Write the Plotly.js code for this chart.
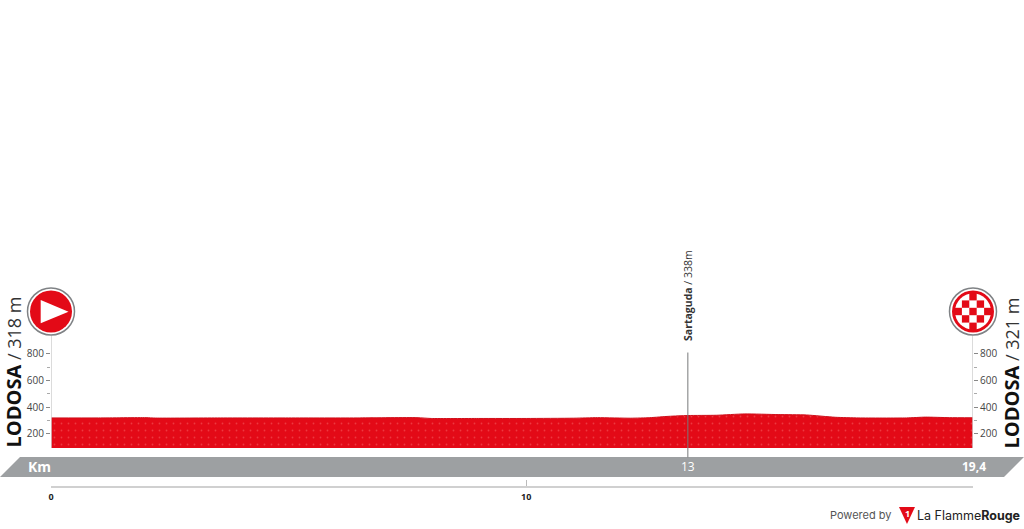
<!DOCTYPE html>
<html>
<head>
<meta charset="utf-8">
<script src="https://cdn.plot.ly/plotly-3.0.1.min.js"></script>
<style>
  html, body { margin: 0; padding: 0; background: #fff; overflow: hidden; }
  #chart { width: 1024px; height: 529px; }
</style>
</head>
<body>
<div id="chart"></div>
<script>
// Stage profile
const profileKm = [0, 1, 2, 2.2, 3.5, 5, 6.5, 7.7, 8, 9, 10, 11, 11.5, 12.2, 12.6, 13, 13.4, 14, 14.6, 15.3, 15.9, 16.5, 17, 18, 18.4, 18.9, 19.4];
const profileElev = [320, 320, 322, 319, 320, 320, 320, 322, 316, 316, 316, 318, 322, 318, 322, 332, 338, 340, 350, 345, 342, 325, 320, 320, 326, 322, 321];
const baseElev = 95;
const axisTopElev = 940;
const stageLengthKm = 19.4;

const elevTicks = [200, 400, 600, 800];
const elevMinorTicks = [300, 500, 700];
const kmTicks = [0, 10, 19.4];
const kmTickLabels = ['0', '10', ''];

const passKm = 13.4;
const passLineElev = [24, 810];
const passLabel = 'Sartaguda';
const passHeight = '338m';
const startLabel = 'LODOSA';
const startHeight = '318 m';
const finishLabel = 'LODOSA';
const finishHeight = '321 m';

const RED = '#e30a17';
const GREY = '#9da0a2';
const FONT = '"Open Sans", sans-serif';

// Plot area in page pixels
const L = 51, R = 973, B = 486;
const px = x => (x - L) / (R - L);
const py = y => (B - y) / B;

function poly(points, fill) {
  const path = points.map((p, i) => `${i ? 'L' : 'M'}${px(p[0])},${py(p[1])}`).join(' ') + ' Z';
  return { type: 'path', xref: 'paper', yref: 'paper', path, fillcolor: fill, line: { width: 0 }, layer: 'below' };
}

function disc(cx, cy, r, fill, lineColor, lineWidth) {
  return {
    type: 'circle', xref: 'paper', yref: 'paper',
    x0: px(cx - r), x1: px(cx + r), y0: py(cy + r), y1: py(cy - r),
    fillcolor: fill, line: { color: lineColor || fill, width: lineWidth || 0 }, layer: 'above',
  };
}

function badge(cx, cy) {
  return [
    disc(cx, cy, 23.5, '#ffffff', '#7f8285', 1.5),
    disc(cx, cy, 21, RED),
  ];
}

const square = (cx, cy, s) => ({
  type: 'rect', xref: 'paper', yref: 'paper',
  x0: px(cx - s / 2), x1: px(cx + s / 2), y0: py(cy + s / 2), y1: py(cy - s / 2),
  fillcolor: RED, line: { width: 0 }, layer: 'above',
});

// Finish flag: white disc inside the red ring, then the red squares
const FX = 973, FY = 311.5, CELL = 7.4;
const checker = [[0, -2], [-1, -1], [1, -1], [-2, 0], [0, 0], [2, 0], [-1, 1], [1, 1], [0, 2]];

const shapes = [
  poly([[20, 457], [1024, 457], [1004, 477], [0, 477]], GREY),
  ...badge(51, 311.5),
  { ...poly([[40.7, 300], [68.5, 311.7], [40.7, 323.3]], '#ffffff'), layer: 'above' },
  ...badge(FX, FY),
  disc(FX, FY, 18, '#ffffff'),
  ...checker.map(c => square(FX + c[0] * CELL, FY + c[1] * CELL, CELL)),
  { ...poly([[899, 507], [915, 507], [907, 524]], RED), layer: 'above' },
];

function note(x, y, text, size, color, extra, family) {
  return {
    xref: 'paper', yref: 'paper', x: px(x), y: py(y), text, showarrow: false,
    font: { family: family || FONT, size, color }, xanchor: 'center', yanchor: 'middle', ...extra,
  };
}

const placeText = (name, height) =>
  `<span style="font-size:20px;font-weight:700;color:#111111">${name}</span> / ${height}`;

const annotations = [
  note(13, 372.5, placeText(startLabel, startHeight), 18, '#333333', { textangle: -90 }),
  note(1011, 372.5, placeText(finishLabel, finishHeight), 18, '#333333', { textangle: -90 }),
  note(688, 296, `<b>${passLabel}</b> / ${passHeight}`, 10.5, '#333333', { textangle: -90 }),
  note(39, 466.5, '<b>Km</b>', 14, '#ffffff'),
  note(688, 466.5, '13', 12, '#ffffff'),
  note(974, 466.5, '<b>19,4</b>', 12, '#ffffff'),
  note(907, 513, '<b>1</b>', 9, '#ffffff'),
  note(860, 515, 'Powered by', 11, '#555555', {}, 'Inter, sans-serif'),
  note(968.5, 515, 'La Flamme<b>Rouge</b>', 12.5, '#222222', {}, 'Inter, sans-serif'),
];

const traces = [
  {
    x: [0, stageLengthKm], y: [baseElev, baseElev],
    mode: 'lines', line: { width: 0 }, hoverinfo: 'skip',
  },
  {
    x: profileKm, y: profileElev,
    mode: 'lines', fill: 'tonexty', fillcolor: RED,
    fillpattern: { shape: '.', bgcolor: RED, fgcolor: '#ee3840', size: 7, solidity: 0.05 },
    line: { color: '#cf0f1a', width: 1, shape: 'spline', smoothing: 0.6 },
  },
  {
    x: [0, 0], y: [baseElev, axisTopElev],
    mode: 'lines', line: { color: '#cfcfcf', width: 1.5 }, hoverinfo: 'skip',
  },
  {
    x: [stageLengthKm, stageLengthKm], y: [baseElev, axisTopElev], yaxis: 'y2',
    mode: 'lines', line: { color: '#cfcfcf', width: 1.5 }, hoverinfo: 'skip',
  },
  {
    x: [passKm, passKm], y: passLineElev,
    mode: 'lines', line: { color: '#77797b', width: 1 }, hoverinfo: 'skip',
  },
];

const elevAxis = {
  range: [-190, 3451],
  tickmode: 'array', tickvals: elevTicks, ticks: 'outside', ticklen: 4, tickwidth: 1, tickcolor: '#888888',
  minor: { tickmode: 'array', tickvals: elevMinorTicks, ticks: 'outside', ticklen: 3, tickwidth: 1, tickcolor: '#aaaaaa', showgrid: false },
  tickfont: { family: FONT, size: 10, color: '#444444' },
  showgrid: false, zeroline: false, showline: false, fixedrange: true,
};

const layout = {
  width: 1024, height: 529,
  margin: { l: L, r: 1024 - R, t: 0, b: 529 - B, pad: 0 },
  paper_bgcolor: '#ffffff', plot_bgcolor: 'rgba(0,0,0,0)',
  showlegend: false,
  xaxis: {
    range: [0, stageLengthKm],
    tickmode: 'array', tickvals: kmTicks, ticktext: kmTickLabels,
    ticks: 'inside', ticklen: 6, tickwidth: 1, tickcolor: '#bbbbbb',
    ticklabelposition: 'outside', ticklabelstandoff: 1,
    tickfont: { family: FONT, size: 9, color: '#222222', weight: 700 },
    showline: true, linecolor: '#d0d0d0', linewidth: 1.5,
    showgrid: false, zeroline: false, fixedrange: true,
  },
  yaxis: { ...elevAxis },
  yaxis2: { ...elevAxis, overlaying: 'y', side: 'right' },
  shapes,
  annotations,
};

Plotly.newPlot('chart', traces, layout, { displayModeBar: false, responsive: false });
</script>
</body>
</html>
